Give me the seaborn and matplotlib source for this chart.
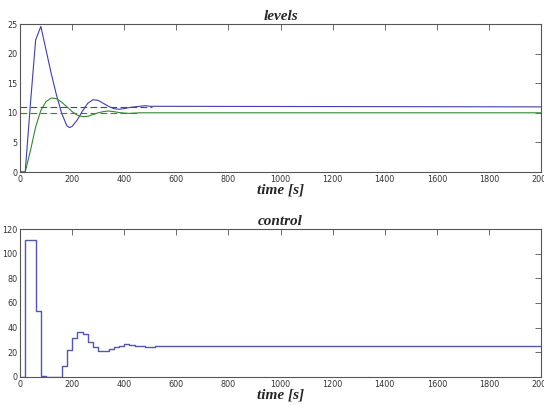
import matplotlib
matplotlib.use('Agg')
import matplotlib.pyplot as plt
import pandas as pd
import seaborn as sns

# level samples (s) for the first 500 s, then steady state
t_level = [0, 20, 40, 60, 80, 100, 120, 140, 160, 180, 190, 200, 220, 240, 260, 280,
           300, 320, 340, 360, 380, 400, 420, 440, 460, 480, 500, 2000]
h1 = [0, 0, 11.5, 22.3, 24.6, 20.6, 16.6, 13.0, 9.9, 7.8, 7.5, 7.7, 8.8, 10.3, 11.6, 12.2,
      12.1, 11.6, 11.1, 10.7, 10.6, 10.7, 10.9, 11.0, 11.1, 11.2, 11.1, 11.0]
h2 = [0, 0, 3.6, 7.6, 10.4, 11.9, 12.5, 12.4, 11.8, 11.0, 10.6, 10.2, 9.6, 9.35, 9.4, 9.7,
      10.0, 10.2, 10.3, 10.2, 10.05, 9.95, 9.9, 9.95, 10.0, 10.0, 10.0, 10.0]
# setpoints (dashed), shown over the simulated window
sp_t1 = [0, 505]
sp1 = [11, 11]
sp_t2 = [0, 460]
sp2 = [10, 10]

# control signal, held constant over each 20 s step
t_ctrl = [0, 20, 40, 60, 80, 100, 120, 140, 160, 180, 200, 220, 240, 260, 280, 300, 320,
          340, 360, 380, 400, 420, 440, 460, 480, 500, 520, 540, 560, 580, 600, 620, 2000]
u = [0, 111, 111, 53.5, 0.8, 0, 0, 0, 9, 22, 32, 36.2, 34.6, 28.6, 24.3, 21.3, 21.3,
     22.4, 24.0, 25.5, 26.4, 26.0, 25.5, 24.8, 24.3, 24.4, 24.8, 25.1, 25.3, 25.3, 25.1, 25.0, 25.0]

BLUE = '#3f3fae'
GREEN = '#2f8a2f'
AXC = '#555555'

sns.set_style('white')
plt.rcParams['font.family'] = ['DejaVu Sans']

lev = pd.DataFrame({'t': t_level, 'h1': h1, 'h2': h2})
ctl = pd.DataFrame({'t': t_ctrl, 'u': u})

fig = plt.figure(figsize=(5.44, 4.05), dpi=100)
ax1 = fig.add_axes([20 / 544, 1 - 172 / 405, 521 / 544, 148 / 405])
ax2 = fig.add_axes([20 / 544, 1 - 377 / 405, 521 / 544, 148 / 405])

sns.lineplot(data=lev, x='t', y='h1', ax=ax1, color=BLUE, lw=0.8)
sns.lineplot(data=lev, x='t', y='h2', ax=ax1, color=GREEN, lw=0.8)
for xs, ys, c in [(sp_t1, sp1, BLUE), (sp_t2, sp2, GREEN)]:
    ln, = ax1.plot(xs, ys, color=c, lw=0.8)
    ln.set_dashes([6, 3])

sns.lineplot(data=ctl, x='t', y='u', ax=ax2, color='#5555b5', lw=1.0, drawstyle='steps-post')

title_font = dict(family='Liberation Serif', weight='bold', style='italic', size=11)
for ax, ttl, ylim, yt in [(ax1, 'levels', (0, 25), range(0, 26, 5)),
                          (ax2, 'control', (0, 120), range(0, 121, 20))]:
    ax.set_xlim(0, 2000)
    ax.set_ylim(*ylim)
    ax.set_xticks(range(0, 2001, 200))
    ax.set_yticks(list(yt))
    ax.set_title(ttl, fontdict=title_font, pad=3)
    ax.set_xlabel('time [s]', fontdict=title_font, labelpad=0)
    ax.set_ylabel('')
    ax.tick_params(direction='in', length=4, width=0.6, colors=AXC, labelsize=6.5,
                   top=True, right=True, pad=2)
    for lab in ax.get_xticklabels() + ax.get_yticklabels():
        lab.set_color('#333333')
        lab.set_fontstretch('condensed')
    for s in ax.spines.values():
        s.set_color(AXC)
        s.set_linewidth(0.8)

fig.savefig('out.png', dpi=100)
